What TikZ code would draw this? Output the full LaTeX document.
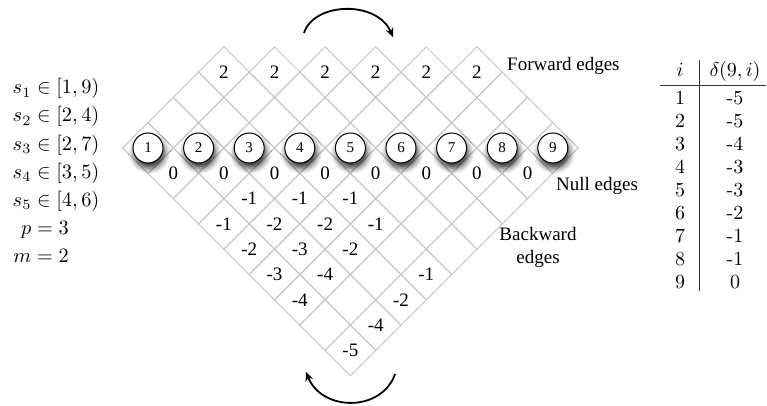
\documentclass[tikz,border=0pt]{standalone}
\usepackage{fontspec}
\newfontfamily\tms{Liberation Serif}
\usetikzlibrary{shapes.geometric,shadows.blur,arrows.meta}
\definecolor{gridgray}{RGB}{200,200,200}
\tikzset{
 cell/.style={diamond,aspect=1,draw=gridgray,line width=1pt,minimum width=50.6pt,minimum height=50.6pt,inner sep=0pt,outer sep=0pt,font=\tms\fontsize{19}{19}\selectfont},
 vertex/.style={circle,draw=black,line width=1pt,fill=white,minimum size=30pt,inner sep=0pt,font=\tms\fontsize{15}{15}\selectfont,blur shadow={shadow xshift=1.5pt,shadow yshift=-5pt,shadow blur radius=6pt,shadow opacity=85}},
 lbl/.style={font=\tms\fontsize{19}{22}\selectfont,inner sep=0pt},
 mathlbl/.style={font=\fontsize{10}{12}\selectfont,scale=2.04,inner sep=0pt,anchor=base west},
 tab/.style={font=\fontsize{10}{12}\selectfont,scale=2.0,inner sep=0pt,anchor=base},
 rulel/.style={line width=0.8pt,draw=black!80},
 turn/.style={line width=1.8pt,-{Stealth[length=9pt,width=8pt]}}
}
\def\setv#1#2#3{\expandafter\def\csname v#1-#2\endcsname{#3}}
\setv{4}{1}{2}\setv{5}{2}{2}\setv{6}{3}{2}\setv{7}{4}{2}\setv{8}{5}{2}\setv{9}{6}{2}
\setv{1}{2}{0}\setv{2}{3}{0}\setv{3}{4}{0}\setv{4}{5}{0}\setv{5}{6}{0}\setv{6}{7}{0}\setv{7}{8}{0}\setv{8}{9}{0}
\setv{2}{4}{-1}\setv{3}{5}{-1}\setv{4}{6}{-1}
\setv{1}{4}{-1}\setv{2}{5}{-2}\setv{3}{6}{-2}\setv{4}{7}{-1}
\setv{1}{5}{-2}\setv{2}{6}{-3}\setv{3}{7}{-2}
\setv{1}{6}{-3}\setv{2}{7}{-4}\setv{4}{9}{-1}
\setv{1}{7}{-4}\setv{3}{9}{-2}
\setv{2}{9}{-4}
\setv{1}{9}{-5}
\begin{document}
\begin{tikzpicture}[x=1pt,y=-1pt]
\useasboundingbox (0,0) rectangle (767,406);
\def\h{25.3}
% grid cells
\foreach \a in {1,...,9}{\foreach \b in {1,...,9}{
  \pgfmathtruncatemacro\d{\a-\b}
  \ifnum\d<4
    \node[cell] (c\a-\b) at ({148+(\a+\b-2)*\h},{148+(\b-\a)*\h}) {\csname v\a-\b\endcsname};
  \fi
}}
% vertices
\foreach \i in {1,...,9}{
  \node[vertex] (n\i) at (c\i-\i) {\i};
}
% labels
\node[lbl,anchor=base west] (fwd) at (507,71) {Forward edges};
\node[lbl,anchor=base west] (nul) at (556,190) {Null edges};
\node[lbl,anchor=base,align=center] (bwd) at (538,263) {Backward\\[1pt]edges};
% left math
\node[mathlbl] (m1) at (31,94) {\llap{$s_1$}${}\in[1,9)$};
\node[mathlbl] (m2) at (31,122) {\llap{$s_2$}${}\in[2,4)$};
\node[mathlbl] (m3) at (31,150) {\llap{$s_3$}${}\in[2,7)$};
\node[mathlbl] (m4) at (31,178) {\llap{$s_4$}${}\in[3,5)$};
\node[mathlbl] (m5) at (31,206) {\llap{$s_5$}${}\in[4,6)$};
\node[mathlbl] (m6) at (31,234) {\llap{$p$}${}=3$};
\node[mathlbl] (m7) at (31,262) {\llap{$m$}${}=2$};
% table
\node[tab] (th1) at (680,77) {$i$};
\node[tab] (th2) at (735,77) {$\delta(9,i)$};
\foreach \v [count=\k] in {-5,-5,-4,-3,-3,-2,-1,-1,0}{
  \node[tab] (ti\k) at (680,{104.5+23*(\k-1)}) {\k};
  \node[tab] (tv\k) at (735,{104.5+23*(\k-1)}) {\v};
}
\coordinate (hl) at (660,85); \coordinate (hr) at (766,85);
\coordinate (vt) at (699,60); \coordinate (vb) at (699,291);
\draw[rulel] (hl) -- (hr);
\draw[rulel] (vt) -- (vb);
% rotation arrows
\coordinate (ta) at (304,33); \coordinate (tb) at (393,37);
\coordinate (ba) at (395,374); \coordinate (bb) at (306,372);
\draw[turn] (ta) .. controls (314,2) and (377,0) .. (tb);
\draw[turn] (ba) .. controls (382,412) and (322,412) .. (bb);
\end{tikzpicture}
\end{document}
